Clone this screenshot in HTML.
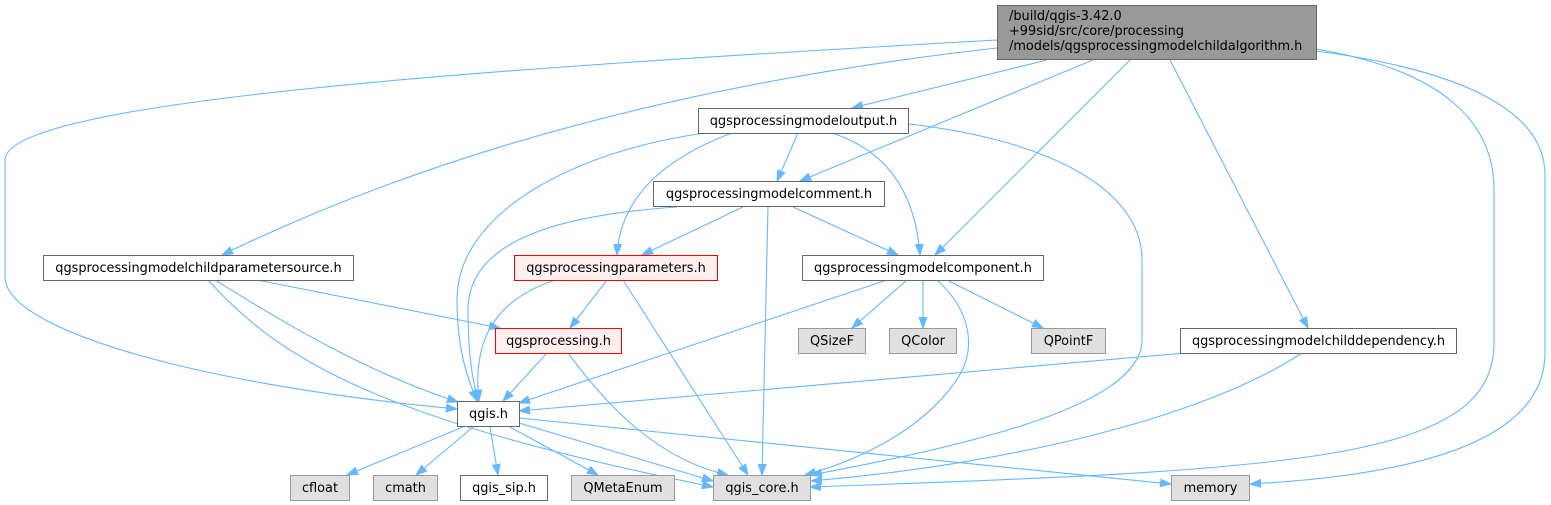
<!DOCTYPE html>
<html><head><meta charset="utf-8"><style>
html,body{margin:0;padding:0;background:#fff;}
svg{display:block;}
text{font-family:"DejaVu Sans","Liberation Sans",sans-serif;font-size:12.9px;fill:#000;}
.e{fill:none;stroke:#63b8ff;stroke-width:1.1;}
.n{fill:#fff;stroke:#666;stroke-width:1;}
.g{fill:#e0e0e0;stroke:#999;stroke-width:1;}
.r{fill:#fff0f0;stroke:#f00;stroke-width:1;}
.root{fill:#999;stroke:#666;stroke-width:1;}
</style></head><body>
<svg width="1551" height="505" viewBox="0 0 1551 505" xmlns="http://www.w3.org/2000/svg">
<defs>
<marker id="a" markerWidth="12" markerHeight="10" refX="11" refY="5" orient="auto" markerUnits="userSpaceOnUse">
<path d="M0,1 L11,5 L0,9z" fill="#63b8ff" stroke="#63b8ff" stroke-width="1"/>
</marker>
</defs>
<g marker-end="url(#a)">
<!-- root edges -->
<path class="e" d="M997,40 C500,68 5,100 5,160 L5,277 C5,330 200,385 457,409"/>
<path class="e" d="M997,48 C800,70 500,120 222,255"/>
<path class="e" d="M1047,60 L852,108"/>
<path class="e" d="M1093,60 L800,181"/>
<path class="e" d="M1130,60 L935,255"/>
<path class="e" d="M1170,60 L1308,328"/>
<path class="e" d="M1316,49 C1440,70 1494,120 1494,190 L1494,343 C1494,460 1300,470 810,487"/>
<path class="e" d="M1316,51 C1460,70 1545,110 1545,175 L1545,353 C1545,440 1420,475 1250,484"/>
<!-- output edges -->
<path class="e" d="M798,133 L777,181"/>
<path class="e" d="M832,133 C885,150 915,190 920,255"/>
<path class="e" d="M705,133 C580,150 457,210 457,300 C457,350 468,380 477,401"/>
<path class="e" d="M732,133 C660,160 620,200 617,255"/>
<path class="e" d="M909,124 C1050,140 1142,190 1142,260 L1142,340 C1142,400 1000,440 811,475"/>
<!-- comment edges -->
<path class="e" d="M677,207 C560,215 468,240 468,310 C468,360 474,385 478,401"/>
<path class="e" d="M743,207 L642,255"/>
<path class="e" d="M793,207 L898,255"/>
<path class="e" d="M768,207 L762,475"/>
<!-- childparametersource edges -->
<path class="e" d="M257,280 L500,328"/>
<path class="e" d="M215,280 C280,320 360,370 458,402"/>
<path class="e" d="M208,280 C280,360 380,420 713,487"/>
<!-- parameters edges -->
<path class="e" d="M607,280 L570,328"/>
<path class="e" d="M555,280 C495,300 472,340 479,401"/>
<path class="e" d="M623,280 L748,475"/>
<!-- component edges -->
<path class="e" d="M887,280 L519,403"/>
<path class="e" d="M907,280 L852,328"/>
<path class="e" d="M923,280 L923,328"/>
<path class="e" d="M947,280 L1043,328"/>
<path class="e" d="M937,280 C970,310 980,350 953,385 C920,430 860,460 805,475"/>
<!-- qgsprocessing edges -->
<path class="e" d="M547,353 L503,401"/>
<path class="e" d="M568,353 C610,410 660,460 728,475"/>
<!-- childdependency edges -->
<path class="e" d="M1185,353 L519,411"/>
<path class="e" d="M1302,353 C1200,420 1000,465 811,481"/>
<!-- qgis.h edges -->
<path class="e" d="M463,427 L347,475"/>
<path class="e" d="M473,427 L416,475"/>
<path class="e" d="M490,427 L498,475"/>
<path class="e" d="M510,427 L598,475"/>
<path class="e" d="M519,423 L713,481"/>
<path class="e" d="M519,418 L1171,484"/>
</g>

<!-- nodes -->
<rect class="root" x="997.5" y="5.5" width="319" height="54"/>
<text x="1009" y="20">/build/qgis-3.42.0</text>
<text x="1009" y="35">+99sid/src/core/processing</text>
<text x="1009" y="50">/models/qgsprocessingmodelchildalgorithm.h</text>

<rect class="n" x="698.5" y="108.5" width="210" height="25"/>
<text x="803.5" y="125" text-anchor="middle">qgsprocessingmodeloutput.h</text>

<rect class="n" x="653.5" y="181.5" width="231" height="25"/>
<text x="769" y="198" text-anchor="middle">qgsprocessingmodelcomment.h</text>

<rect class="n" x="43.5" y="255.5" width="310" height="25"/>
<text x="198.5" y="272" text-anchor="middle">qgsprocessingmodelchildparametersource.h</text>

<rect class="r" x="514.5" y="255.5" width="203" height="25"/>
<text x="616" y="272" text-anchor="middle">qgsprocessingparameters.h</text>

<rect class="n" x="802.5" y="255.5" width="241" height="25"/>
<text x="923" y="272" text-anchor="middle">qgsprocessingmodelcomponent.h</text>

<rect class="r" x="495.5" y="328.5" width="126" height="25"/>
<text x="558.5" y="345" text-anchor="middle">qgsprocessing.h</text>

<rect class="g" x="798.5" y="328.5" width="67" height="25"/>
<text x="832" y="345" text-anchor="middle">QSizeF</text>

<rect class="g" x="889.5" y="328.5" width="67" height="25"/>
<text x="923" y="345" text-anchor="middle">QColor</text>

<rect class="g" x="1031.5" y="328.5" width="74" height="25"/>
<text x="1068.5" y="345" text-anchor="middle">QPointF</text>

<rect class="n" x="1180.5" y="328.5" width="276" height="25"/>
<text x="1318.5" y="345" text-anchor="middle">qgsprocessingmodelchilddependency.h</text>

<rect class="n" x="457.5" y="401.5" width="62" height="25"/>
<text x="488.5" y="418" text-anchor="middle">qgis.h</text>

<rect class="g" x="290.5" y="475.5" width="59" height="25"/>
<text x="320" y="492" text-anchor="middle">cfloat</text>

<rect class="g" x="373.5" y="475.5" width="64" height="25"/>
<text x="405.5" y="492" text-anchor="middle">cmath</text>

<rect class="n" x="460.5" y="475.5" width="87" height="25"/>
<text x="504" y="492" text-anchor="middle">qgis_sip.h</text>

<rect class="g" x="571.5" y="475.5" width="103" height="25"/>
<text x="623" y="492" text-anchor="middle">QMetaEnum</text>

<rect class="g" x="713.5" y="475.5" width="97" height="25"/>
<text x="762" y="492" text-anchor="middle">qgis_core.h</text>

<rect class="g" x="1171.5" y="475.5" width="78" height="25"/>
<text x="1210.5" y="492" text-anchor="middle">memory</text>
</svg>
</body></html>
